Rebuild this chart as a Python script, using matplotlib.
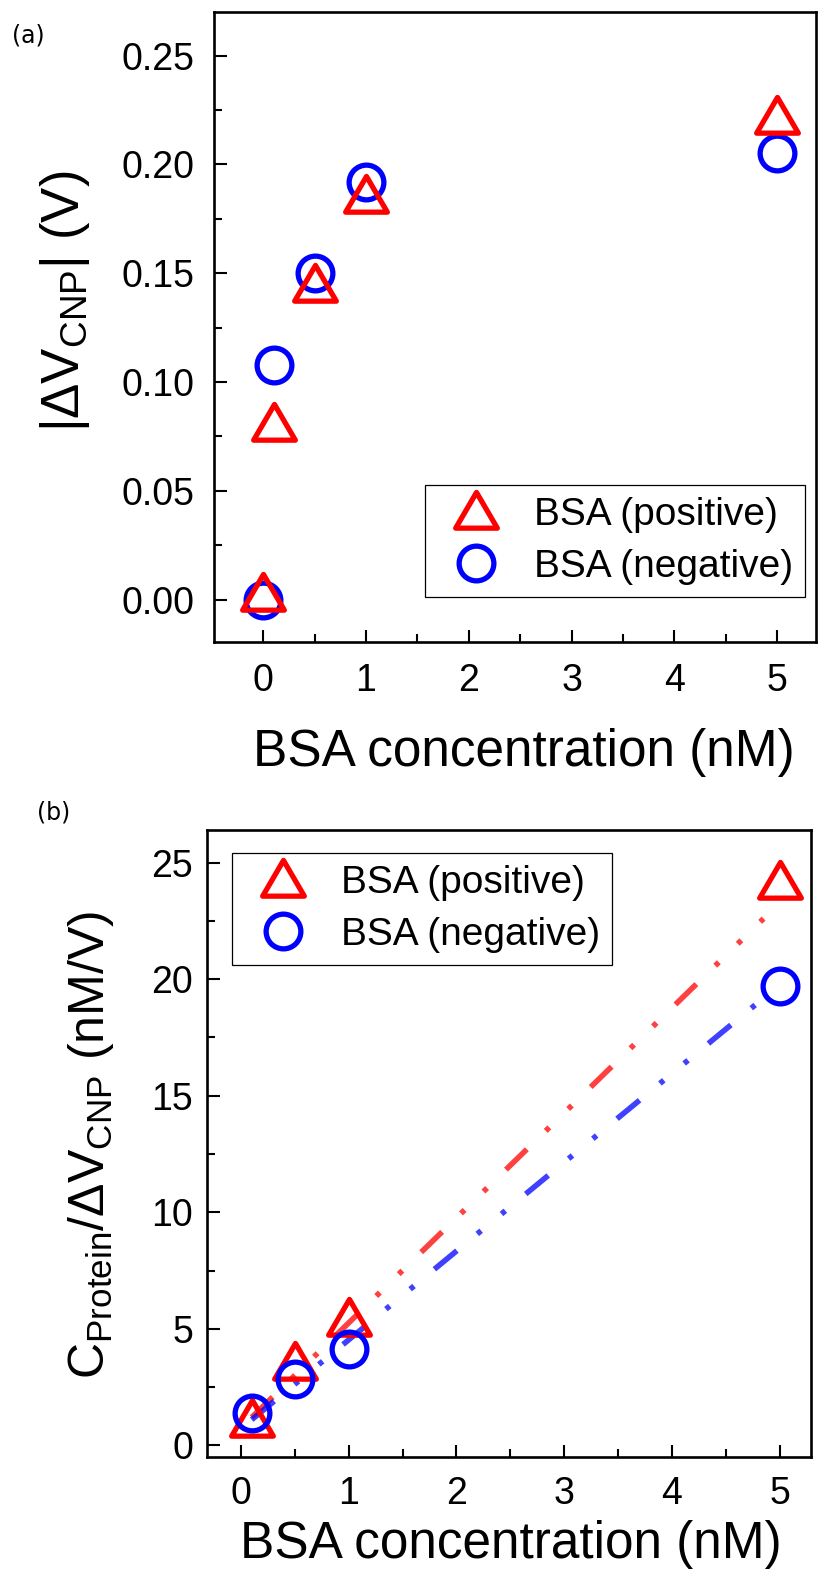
import numpy as np
import matplotlib
matplotlib.use("Agg")
import matplotlib.pyplot as plt
from matplotlib.path import Path
from matplotlib.markers import MarkerStyle

plt.rcParams['font.family'] = ['Liberation Sans', 'DejaVu Sans']
plt.rcParams['mathtext.fontset'] = 'custom'
plt.rcParams['mathtext.rm'] = 'Liberation Sans'
plt.rcParams['mathtext.it'] = 'Liberation Sans:italic'
plt.rcParams['lines.scale_dashes'] = False

# panel (a) data
conc_a = [0, 0.1, 0.5, 1, 5]
dv_pos = [0.003, 0.081, 0.145, 0.186, 0.222]
dv_neg = [0.0, 0.108, 0.150, 0.192, 0.205]

# panel (b) data
conc_b = [0.1, 0.5, 1, 5]
ratio_pos = [1.15, 3.58, 5.46, 24.2]
ratio_neg = [1.39, 2.83, 4.13, 19.7]
# fitted lines, end points
fit_pos_x = [0.1, 4.85]
fit_pos_y = [1.2, 22.6]
fit_neg_x = [0.1, 4.8]
fit_neg_y = [1.1, 19.0]

tri_path = Path([(-1, -0.8), (1, -0.8), (0, 0.914), (-1, -0.8)],
                [Path.MOVETO, Path.LINETO, Path.LINETO, Path.CLOSEPOLY])
tri = MarkerStyle(tri_path, joinstyle='round')
circ = MarkerStyle('o')

RED = '#ff0000'
BLUE = '#0000ff'
ms_tri = 30
ms_circ = 25
mew = 3.8
W, H = 819, 1576


def style_axes(ax, xpad, ypad):
    for s in ax.spines.values():
        s.set_linewidth(1.9)
    ax.tick_params(which='both', direction='in', top=False, right=False,
                   labelsize=27, width=1.5)
    ax.tick_params(which='major', length=9)
    ax.tick_params(which='minor', length=5.5)
    ax.tick_params(axis='x', which='major', pad=xpad)
    ax.tick_params(axis='y', which='major', pad=ypad)


def add_legend(ax, left, top):
    leg = ax.legend(loc='upper left', bbox_to_anchor=(left / W, 1 - top / H),
                    bbox_transform=fig.transFigure, borderaxespad=0,
                    fontsize=28, fancybox=False, edgecolor='black',
                    framealpha=1, handlelength=2.0, handletextpad=0.5,
                    borderpad=0.3, labelspacing=0.42)
    leg.get_frame().set_linewidth(0.9)
    return leg


fig = plt.figure(figsize=(W / 100, H / 100), dpi=100)

# (a)
ax1 = fig.add_axes([214 / W, 1 - 642 / H, 602 / W, 630 / H])
ax1.plot(conc_a, dv_pos, linestyle='none', marker=tri, ms=ms_tri, mfc='none',
         mec=RED, mew=mew, label='BSA (positive)', zorder=4)
ax1.plot(conc_a, dv_neg, linestyle='none', marker=circ, ms=ms_circ, mfc='none',
         mec=BLUE, mew=mew, label='BSA (negative)', zorder=3)
ax1.set_xlim(-0.48, 5.38)
ax1.set_ylim(-0.0195, 0.27)
ax1.set_xticks(range(6))
ax1.set_xticks(np.arange(0.5, 5.5, 1), minor=True)
ax1.set_yticks([0, 0.05, 0.10, 0.15, 0.20, 0.25])
ax1.set_yticks(np.arange(0.025, 0.26, 0.05), minor=True)
ax1.set_yticklabels(['0.00', '0.05', '0.10', '0.15', '0.20', '0.25'])
style_axes(ax1, 15, 14)
ax1.set_xlabel('BSA concentration (nM)', fontsize=37, va='center')
ax1.xaxis.set_label_coords(0.515, -0.176)
ax1.set_ylabel('|ΔV$_{\\mathrm{CNP}}$| (V)', fontsize=38, va='center')
ax1.yaxis.set_label_coords(-0.2475, 0.541)
add_legend(ax1, 425, 485)
fig.text(12 / W, 1 - 35 / H, '(a)', fontsize=17, va='center',
         family=['DejaVu Sans'])

# (b)
ax2 = fig.add_axes([207 / W, 1 - 1457 / H, 604 / W, 627 / H])
dash = (0, (21, 19, 3.6, 19, 3.6, 19))
ax2.plot(fit_pos_x, fit_pos_y, color=RED, lw=4, alpha=0.75,
         linestyle=dash, zorder=2)
ax2.plot(fit_neg_x, fit_neg_y, color=BLUE, lw=4, alpha=0.75,
         linestyle=dash, zorder=2)
ax2.plot(conc_b, ratio_pos, linestyle='none', marker=tri, ms=ms_tri, mfc='none',
         mec=RED, mew=mew, label='BSA (positive)', zorder=4)
ax2.plot(conc_b, ratio_neg, linestyle='none', marker=circ, ms=ms_circ, mfc='none',
         mec=BLUE, mew=mew, label='BSA (negative)', zorder=5)
ax2.set_xlim(-0.315, 5.29)
ax2.set_ylim(-0.5, 26.4)
ax2.set_xticks(range(6))
ax2.set_xticks(np.arange(0.5, 5.5, 1), minor=True)
ax2.set_yticks(range(0, 26, 5))
ax2.set_yticks(np.arange(2.5, 26, 5), minor=True)
style_axes(ax2, 14, 10)
ax2.set_xlabel('BSA concentration (nM)', fontsize=37, va='center')
ax2.xaxis.set_label_coords(0.503, -0.139)
ax2.set_ylabel('C$_{\\mathrm{Protein}}$/ΔV$_{\\mathrm{CNP}}$ (nM/V)',
               fontsize=36, va='center')
ax2.yaxis.set_label_coords(-0.192, 0.498)
add_legend(ax2, 232, 853)
fig.text(37 / W, 1 - 812 / H, '(b)', fontsize=17, va='center',
         family=['DejaVu Sans'])

fig.savefig('out.png', dpi=100)
